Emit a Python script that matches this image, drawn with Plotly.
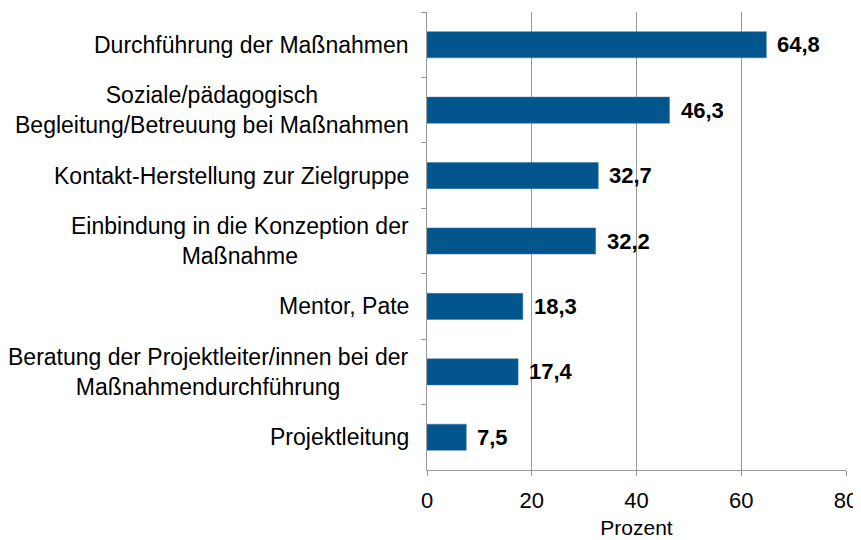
import plotly.graph_objects as go

categories = [
    "Durchführung der Maßnahmen",
    "Soziale/pädagogisch<br>Begleitung/Betreuung bei Maßnahmen",
    "Kontakt-Herstellung zur Zielgruppe",
    "Einbindung in die Konzeption der<br>Maßnahme",
    "Mentor, Pate",
    "Beratung der Projektleiter/innen bei der<br>Maßnahmendurchführung",
    "Projektleitung",
]
values = [64.8, 46.3, 32.7, 32.2, 18.3, 17.4, 7.5]
x_ticks = [0, 20, 40, 60, 80]

FONT = "Liberation Sans, Arial, sans-serif"
BAR = "#03558E"
GRID = "#999999"
FS = 22
FS_CAT = 23

fig = go.Figure(go.Bar(
    x=values, y=categories, orientation="h",
    marker=dict(color=BAR, line=dict(color="#3f78a8", width=0.5)),
    width=0.4, hoverinfo="skip",
))

annotations = []
for c, v in zip(categories, values):
    annotations.append(dict(
        x=0, y=c, xref="x", yref="y", text=c, showarrow=False,
        xanchor="right", yanchor="middle", align="center", xshift=-16,
        font=dict(family=FONT, size=FS_CAT, color="#000000"),
    ))
    annotations.append(dict(
        x=v, y=c, xref="x", yref="y", text="<b>" + f"{v:.1f}".replace(".", ",") + "</b>",
        showarrow=False, xanchor="left", yanchor="middle", xshift=9,
        font=dict(family=FONT, size=FS, color="#000000"),
    ))

# page body keeps the browser's 8px margin, so margins are offset by 8px
fig.update_layout(
    width=861, height=540,
    margin=dict(l=419, r=23, t=4, b=78, autoexpand=False),
    plot_bgcolor="white", paper_bgcolor="white",
    showlegend=False,
    annotations=annotations,
    font=dict(family=FONT, size=FS, color="#000000"),
    xaxis=dict(
        range=[0, 80], tickvals=x_ticks, ticktext=[str(t) for t in x_ticks],
        showgrid=True, gridcolor=GRID, gridwidth=1,
        showline=True, linecolor=GRID, linewidth=1,
        ticks="outside", ticklen=5, tickcolor=GRID, ticklabelstandoff=6,
        zeroline=False, automargin=False,
        title=dict(text="Prozent", standoff=7, font=dict(size=21)),
        tickfont=dict(size=FS),
    ),
    yaxis=dict(
        type="category", autorange="reversed",
        showticklabels=False, showgrid=False, zeroline=False,
        showline=True, linecolor=GRID, linewidth=1, automargin=False,
        ticks="outside", ticklen=5, tickcolor=GRID, tickson="boundaries",
    ),
)

fig.write_html("out.html")
